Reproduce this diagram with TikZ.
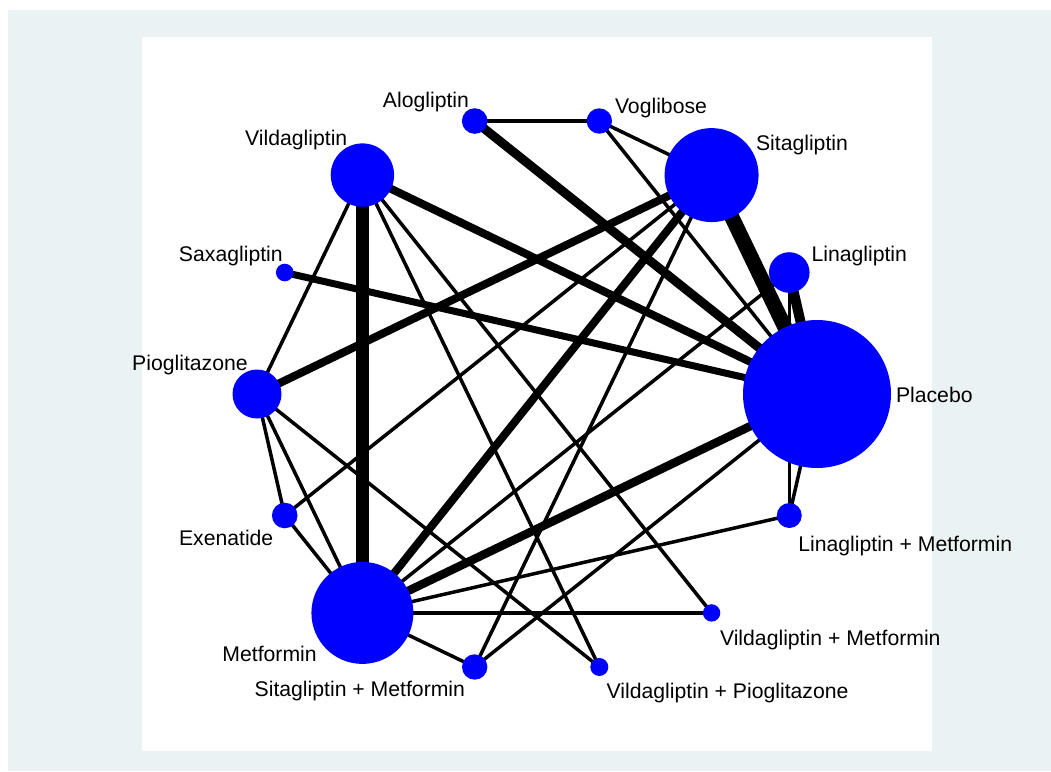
\documentclass[tikz,border=0pt]{standalone}
\usepackage{fontspec}
\setmainfont{Liberation Sans}
\pgfdeclarelayer{back}
\pgfdeclarelayer{edges}
\pgfsetlayers{back,edges,main}
\definecolor{ltbg}{RGB}{234,242,243}
\definecolor{nodeblue}{RGB}{0,0,255}
\begin{document}
\begin{tikzpicture}[x=1pt,y=-1pt,
  nd/.style={circle,fill=nodeblue,draw=none,inner sep=0pt,outer sep=0pt,minimum size=#1},
  lbl/.style={inner sep=0pt,outer sep=0pt,font=\fontsize{21.2}{25}\selectfont,text=black},
  ed/.style={line width=#1,draw=black},
  ed/.default=3.5pt]
\useasboundingbox (0,0) rectangle (1051,771);
\begin{pgfonlayer}{back}
  \fill[white] (0,0) rectangle (1051,771);
  \fill[ltbg] (8,10) rectangle (1051,771);
  \fill[white] (142,37) rectangle (932,751);
\end{pgfonlayer}

% nodes
\node[nd=148pt] (plac) at (817,394) {};
\node[nd=40.6pt] (lina) at (789.27,272.51) {};
\node[nd=94pt] (sita) at (711.58,175.09) {};
\node[nd=25.4pt] (vogl) at (599.31,121.02) {};
\node[nd=25.6pt] (alog) at (474.69,121.02) {};
\node[nd=63.4pt] (vild) at (362.42,175.09) {};
\node[nd=17.6pt] (saxa) at (284.73,272.51) {};
\node[nd=49pt] (piog) at (257,394) {};
\node[nd=25.6pt] (exen) at (284.73,515.49) {};
\node[nd=102pt] (metf) at (362.42,612.91) {};
\node[nd=25.4pt] (sitm) at (474.69,666.98) {};
\node[nd=18pt] (vilp) at (599.31,666.98) {};
\node[nd=17.4pt] (vilm) at (711.58,612.91) {};
\node[nd=25pt] (linm) at (789.27,515.49) {};

% labels
\node[lbl,anchor=base east] (l-alog) at (469,107) {Alogliptin};
\node[lbl,anchor=base west] (l-vogl) at (615,113.3) {Voglibose};
\node[lbl,anchor=base west] (l-sita) at (756,150) {Sitagliptin};
\node[lbl,anchor=base west] (l-lina) at (811.5,261.7) {Linagliptin};
\node[lbl,anchor=base west] (l-plac) at (896,402.7) {Placebo};
\node[lbl,anchor=base west] (l-linm) at (798.3,551.7) {Linagliptin + Metformin};
\node[lbl,anchor=base west] (l-vilm) at (720,645) {Vildagliptin + Metformin};
\node[lbl,anchor=base west] (l-vilp) at (606.7,698.3) {Vildagliptin + Pioglitazone};
\node[lbl,anchor=base east] (l-sitm) at (465,696) {Sitagliptin + Metformin};
\node[lbl,anchor=base east] (l-metf) at (316.7,661) {Metformin};
\node[lbl,anchor=base east] (l-exen) at (273.3,545) {Exenatide};
\node[lbl,anchor=base east] (l-piog) at (247.7,370) {Pioglitazone};
\node[lbl,anchor=base east] (l-saxa) at (282.7,261.7) {Saxagliptin};
\node[lbl,anchor=base east] (l-vild) at (347.3,145.7) {Vildagliptin};

% edges
\begin{pgfonlayer}{edges}
  \draw[ed] (alog.center) -- (vogl.center);
  \draw[ed=9pt] (alog.center) -- (plac.center);
  \draw[ed] (vogl.center) -- (sita.center);
  \draw[ed] (vogl.center) -- (plac.center);
  \draw[ed=15pt] (sita.center) -- (plac.center);
  \draw[ed=8pt] (sita.center) -- (piog.center);
  \draw[ed=8pt] (sita.center) -- (metf.center);
  \draw[ed] (sita.center) -- (exen.center);
  \draw[ed] (sita.center) -- (sitm.center);
  \draw[ed=10pt] (lina.center) -- (plac.center);
  \draw[ed] (lina.center) -- (linm.center);
  \draw[ed] (lina.center) -- (metf.center);
  \draw[ed=13pt] (vild.center) -- (metf.center);
  \draw[ed=8pt] (vild.center) -- (plac.center);
  \draw[ed] (vild.center) -- (piog.center);
  \draw[ed] (vild.center) -- (vilp.center);
  \draw[ed] (vild.center) -- (vilm.center);
  \draw[ed=7pt] (saxa.center) -- (plac.center);
  \draw[ed] (piog.center) -- (exen.center);
  \draw[ed] (piog.center) -- (metf.center);
  \draw[ed] (piog.center) -- (vilp.center);
  \draw[ed] (exen.center) -- (metf.center);
  \draw[ed=8.5pt] (metf.center) -- (plac.center);
  \draw[ed] (metf.center) -- (linm.center);
  \draw[ed] (metf.center) -- (vilm.center);
  \draw[ed] (metf.center) -- (sitm.center);
  \draw[ed] (sitm.center) -- (plac.center);
  \draw[ed] (linm.center) -- (plac.center);
\end{pgfonlayer}
\end{tikzpicture}
\end{document}
